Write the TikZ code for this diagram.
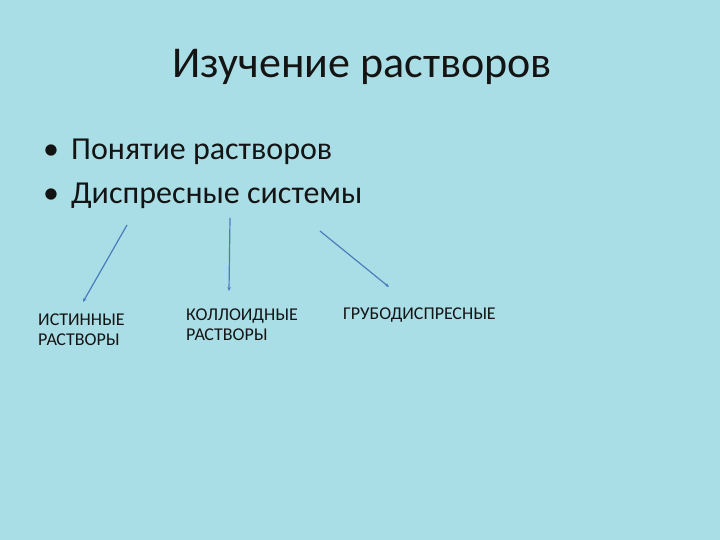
\documentclass[tikz,border=0pt]{standalone}
\usepackage{fontspec}
\setmainfont{Carlito}
\usetikzlibrary{positioning,arrows.meta}
\definecolor{slidebg}{RGB}{170,222,230}
\definecolor{linkblue}{RGB}{74,126,187}
\definecolor{inktext}{RGB}{20,20,20}

\begin{document}
\begin{tikzpicture}[x=1pt,y=-1pt,
  titletext/.style={anchor=base west,inner sep=0pt,text=inktext,font=\fontsize{44}{52}\selectfont},
  bullettext/.style={anchor=base west,inner sep=0pt,text=inktext,font=\fontsize{32}{38}\selectfont},
  kindlabel/.style={anchor=base west,inner sep=0pt,text=inktext,align=left,font=\fontsize{18}{20}\selectfont},
  link/.style={draw=linkblue,line width=1.2pt,-{Stealth[length=4pt,width=3.5pt]}}]
% Background
\fill[slidebg] (0,0) rectangle (720,540);
\useasboundingbox (0,0) rectangle (720,540);

% Title
\node[titletext] (title) at (172,78) {Изучение растворов};

% Bullets
\node[bullettext] (b1) at (43,160) {•\hspace{12pt}Понятие растворов};
\node[bullettext] (b2) at (43,204) {•\hspace{12pt}Диспресные системы};

% Kinds (base is the last line)
\node[kindlabel] (ist) at (38,345) {ИСТИННЫЕ\\РАСТВОРЫ};
\node[kindlabel] (kol) at (186,340) {КОЛЛОИДНЫЕ\\РАСТВОРЫ};
\node[kindlabel] (grub) at (343,319) {ГРУБОДИСПРЕСНЫЕ};

% Link points
\coordinate (s1) at (127,225);
\coordinate (s2) at (230,218);
\coordinate (s3) at (320,231);
\coordinate (e1) at (83,302);
\coordinate (e2) at (229,291);
\coordinate (e3) at (389,287);

% Connections
\draw[link] (s1) -- (e1);
\draw[link] (s2) -- (e2);
\draw[link] (s3) -- (e3);
\end{tikzpicture}
\end{document}
